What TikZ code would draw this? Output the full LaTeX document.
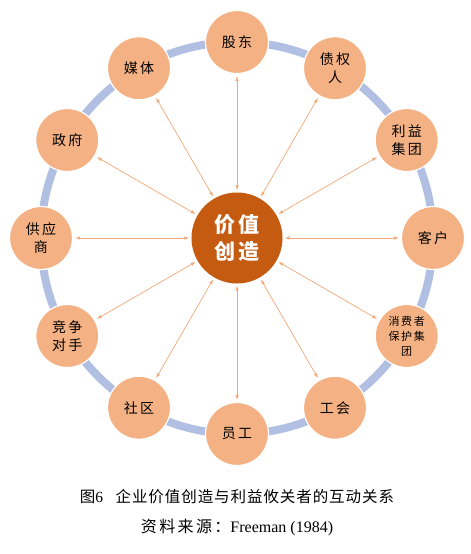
\documentclass[tikz,border=0pt]{standalone}
\usepackage{fontspec}
\setmainfont{Liberation Serif}
\newfontfamily\cjk{Noto Sans CJK SC}[LetterSpace=6]
\newfontfamily\cjkwide{Noto Sans CJK SC}[LetterSpace=15]
\usetikzlibrary{arrows.meta}

\definecolor{partyfill}{HTML}{F4B183}
\definecolor{corefill}{HTML}{C55A11}
\definecolor{ringblue}{HTML}{B1BFE2}
\definecolor{linkorange}{HTML}{F2A877}

\begin{document}
\begin{tikzpicture}[x=1pt,y=1pt,
  party/.style={circle,fill=partyfill,draw=white,line width=1.2pt,minimum size=63pt,inner sep=1pt,
    align=center,font=\cjkwide\fontsize{14}{18}\selectfont},
  core/.style={circle,fill=corefill,draw=none,minimum size=91pt,inner sep=1pt,align=center,
    text=white,font=\cjkwide\bfseries\fontsize{21}{27}\selectfont},
  link/.style={{Latex[length=5pt,width=3.5pt]}-{Latex[length=5pt,width=3.5pt]},draw=linkorange,line width=0.7pt,
    shorten <=2pt,shorten >=2pt}]
  \useasboundingbox (-237,-316) rectangle (234,238);
  % ring behind the stakeholders
  \draw[ringblue,line width=8pt] (0,0) circle (196);
  \node[core] (value) at (0,0) {价值\\创造};
  \node[party] (holder) at (90:196) {股东};
  \node[party] (creditor) at (60:196) {债权\\人};
  \node[party] (lobby) at (30:196) {利益\\集团};
  \node[party] (client) at (0:196) {客户};
  \node[party,font=\cjkwide\fontsize{11}{15}\selectfont] (consumer) at (-30:196) {消费者\\保护集\\团};
  \node[party] (union) at (-60:196) {工会};
  \node[party] (staff) at (-90:196) {员工};
  \node[party] (community) at (-120:196) {社区};
  \node[party] (rival) at (-150:196) {竞争\\对手};
  \node[party] (supplier) at (180:196) {供应\\商};
  \node[party] (govt) at (150:196) {政府};
  \node[party] (media) at (120:196) {媒体};
  \draw[link] (holder) -- (value);
  \draw[link] (creditor) -- (value);
  \draw[link] (lobby) -- (value);
  \draw[link] (client) -- (value);
  \draw[link] (consumer) -- (value);
  \draw[link] (union) -- (value);
  \draw[link] (staff) -- (value);
  \draw[link] (community) -- (value);
  \draw[link] (rival) -- (value);
  \draw[link] (supplier) -- (value);
  \draw[link] (govt) -- (value);
  \draw[link] (media) -- (value);
  % caption
  \node[font=\fontsize{15.5}{18}\selectfont] (title) at (0,-259) {{\cjk 图}6\hspace{0.8em}{\cjk 企业价值创造与利益攸关者的互动关系}};
  \node[font=\fontsize{16}{18}\selectfont] (source) at (0,-289) {{\cjkwide 资料来源：}Freeman (1984)};
\end{tikzpicture}
\end{document}
